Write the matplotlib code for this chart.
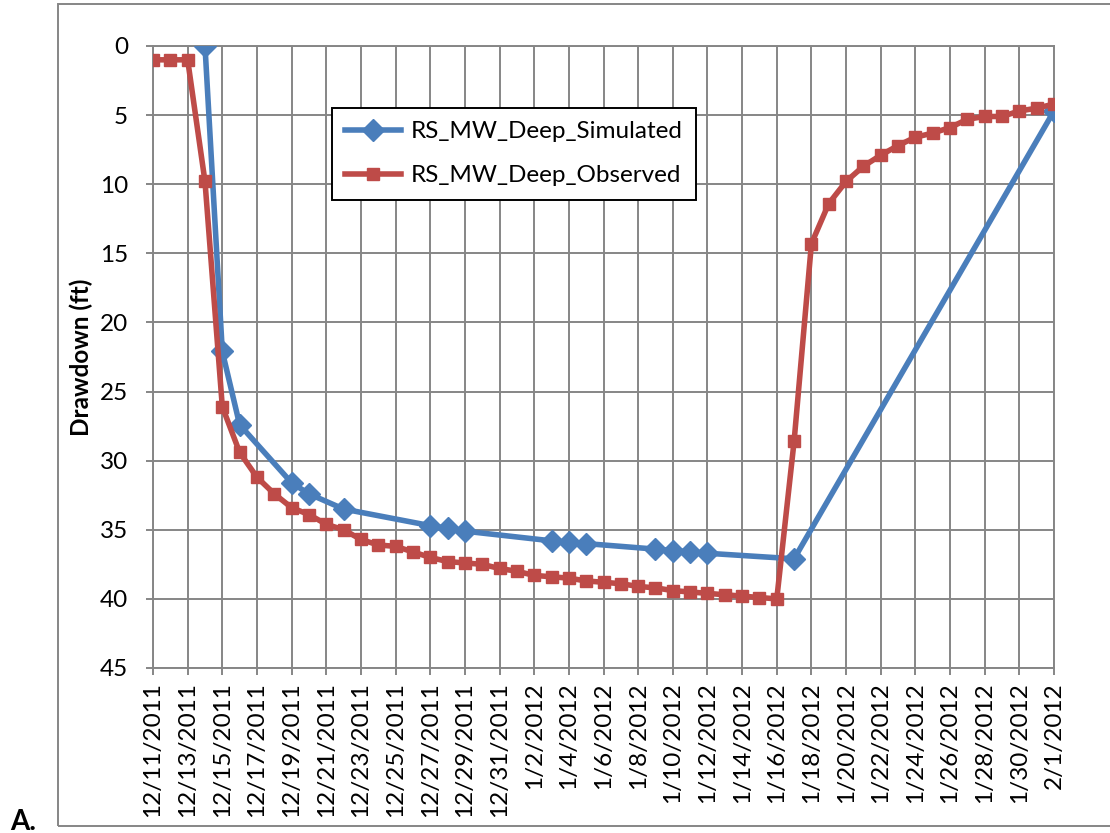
import pandas as pd
import matplotlib
matplotlib.use("Agg")
import matplotlib.pyplot as plt
from matplotlib.patches import Rectangle

### Data ###
sim_dates = ["2011-12-14", "2011-12-15", "2011-12-16", "2011-12-19", "2011-12-20",
             "2011-12-22", "2011-12-27", "2011-12-28", "2011-12-29", "2012-01-03",
             "2012-01-04", "2012-01-05", "2012-01-09", "2012-01-10", "2012-01-11",
             "2012-01-12", "2012-01-17", "2012-02-01"]
sim_drawdown = [0.0, 22.1, 27.4, 31.6, 32.4, 33.5, 34.7, 34.9, 35.1, 35.8,
                35.9, 36.0, 36.4, 36.5, 36.6, 36.7, 37.1, 4.7]

# observed: one reading per day, 12/11/2011 .. 2/1/2012
obs_start, obs_end = "2011-12-11", "2012-02-01"
obs_drawdown = [1.0, 1.0, 1.0, 9.8, 26.1, 29.4, 31.2, 32.4, 33.4, 33.9, 34.6,
                35.0, 35.7, 36.1, 36.2, 36.6, 37.0, 37.3, 37.4, 37.5, 37.8,
                38.0, 38.3, 38.4, 38.5, 38.7, 38.8, 38.9, 39.1, 39.2, 39.4,
                39.5, 39.6, 39.7, 39.8, 39.9, 40.0, 28.6, 14.3, 11.4, 9.8,
                8.7, 7.9, 7.2, 6.6, 6.3, 5.9, 5.3, 5.1, 5.1, 4.7, 4.5, 4.2]

tick_labels = ["12/11/2011", "12/13/2011", "12/15/2011", "12/17/2011", "12/19/2011",
               "12/21/2011", "12/23/2011", "12/25/2011", "12/27/2011", "12/29/2011",
               "12/31/2011", "1/2/2012", "1/4/2012", "1/6/2012", "1/8/2012",
               "1/10/2012", "1/12/2012", "1/14/2012", "1/16/2012", "1/18/2012",
               "1/20/2012", "1/22/2012", "1/24/2012", "1/26/2012", "1/28/2012",
               "1/30/2012", "2/1/2012"]
y_ticks = [0, 5, 10, 15, 20, 25, 30, 35, 40, 45]

### Plot ###
plt.rcParams["font.family"] = ["Lato", "DejaVu Sans"]
grid_col = "#868686"
blue = "#4A7EBB"
red = "#BE4B48"
fs = 17.5

fig = plt.figure(figsize=(11.1, 8.33), dpi=100)
ax = fig.add_axes([153 / 1110, 1 - 668 / 833, 901 / 1110, 622 / 833])

sim_x = pd.to_datetime(sim_dates)
obs_x = pd.date_range(obs_start, obs_end, freq="D")

ax.plot(sim_x, sim_drawdown, color=blue, lw=4, marker="D", ms=11,
        mec=blue, mfc=blue, label="RS_MW_Deep_Simulated", zorder=3)
ax.plot(obs_x, obs_drawdown, color=red, lw=4, marker="s", ms=9,
        mec=red, mfc=red, label="RS_MW_Deep_Observed", zorder=4)

ticks = pd.to_datetime(tick_labels, format="%m/%d/%Y")
ax.set_xticks(ticks)
ax.set_xticklabels(tick_labels, rotation=90, fontsize=fs)
ax.set_xlim(ticks[0], ticks[-1])

ax.set_ylim(45, 0)
ax.set_yticks(y_ticks)
ax.set_yticklabels([str(v) for v in y_ticks], fontsize=fs)

ax.grid(True, color=grid_col, lw=1.4)
ax.set_axisbelow(True)
for s in ax.spines.values():
    s.set_color(grid_col)
    s.set_linewidth(1.4)
ax.tick_params(axis="both", color=grid_col, width=1.4, length=5)
ax.tick_params(axis="y", pad=13)
ax.tick_params(axis="x", pad=5)

ax.set_ylabel("Drawdown (ft)", fontsize=fs, fontweight="bold")
ax.yaxis.set_label_coords(-0.066, 0.5)

leg = ax.legend(loc="upper left", bbox_to_anchor=(0.1987, 0.9003), fontsize=fs,
                numpoints=1, handlelength=2.3, labelspacing=0.95, borderpad=0.55,
                borderaxespad=0, handletextpad=0.4,
                fancybox=False, framealpha=1)
leg.get_frame().set_edgecolor("black")
leg.get_frame().set_linewidth(1.4)

# outer chart frame
fig.patches.append(Rectangle((58 / 1110, 1 - 826 / 833), 1.0, (822 / 833),
                             transform=fig.transFigure, fill=False,
                             edgecolor=grid_col, lw=1.4))
fig.text(10 / 1110, 0.004, "A.", fontsize=20, fontweight="bold", va="baseline")

plt.savefig("out.png", dpi=100)
